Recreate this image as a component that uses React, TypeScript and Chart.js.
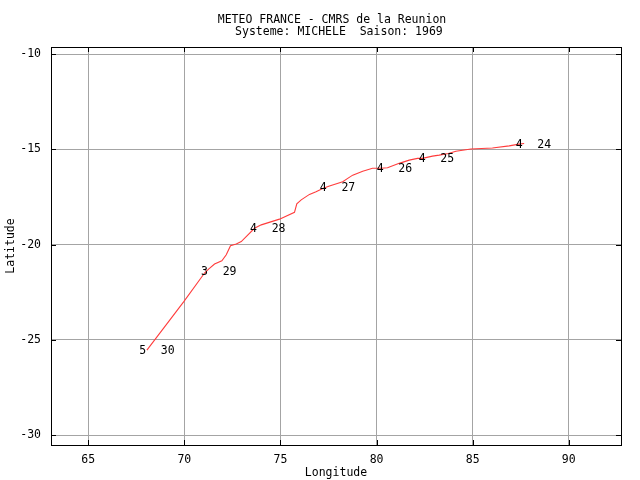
import React, { useEffect, useRef } from "react";
import { Chart, registerables } from "chart.js";

Chart.register(...registerables);

const titleLines = ["METEO FRANCE - CMRS de la Reunion", "  Systeme: MICHELE  Saison: 1969"];

const xTicks = [65, 70, 75, 80, 85, 90];
const yTicks = [-10, -15, -20, -25, -30];

const trackLon = [87.68, 87.42, 86.9, 86.03, 84.91, 84.13, 83.74, 83.26, 82.91, 82.39, 82.13, 81.7, 81.18, 80.57, 80.23, 79.79, 79.28, 78.76, 78.5, 78.24, 77.55, 77.23, 76.85, 76.51, 76.08, 75.85, 75.73, 74.95, 74.0, 73.65, 72.96, 72.7, 72.4, 72.18, 71.95, 71.57, 71.26, 71.05, 69.98, 68.05];
const trackLat = [-14.69, -14.72, -14.81, -14.92, -14.98, -15.09, -15.21, -15.3, -15.35, -15.47, -15.47, -15.56, -15.73, -15.96, -15.99, -15.99, -16.14, -16.35, -16.52, -16.7, -16.92, -17.04, -17.22, -17.36, -17.65, -17.86, -18.3, -18.66, -18.96, -19.14, -19.84, -19.96, -20.06, -20.53, -20.85, -21.02, -21.28, -21.49, -22.98, -25.54];

const days = ["24", "25", "26", "27", "28", "29", "30"];
const intensity = ["4", "4", "4", "4", "4", "3", "5"];
const dayLon = [87.42, 82.38, 80.19, 77.23, 73.6, 71.05, 67.83];
const dayLat = [-14.72, -15.46, -15.98, -16.97, -19.12, -21.37, -25.51];

const FONT = "DejaVu Sans Mono";
const FSIZE = 11.5;

const decorPlugin = {
  id: "decor",
  afterDraw(chart: any) {
    const ctx = chart.ctx;
    const { left, right, top, bottom } = chart.chartArea;
    const xs = chart.scales.x;
    const ys = chart.scales.y;
    ctx.save();
    ctx.strokeStyle = "#000";
    ctx.lineWidth = 1;
    ctx.strokeRect(Math.round(left) + 0.5, Math.round(top) + 0.5, Math.round(right - left), Math.round(bottom - top));
    ctx.beginPath();
    xTicks.forEach((v) => {
      const px = Math.round(xs.getPixelForValue(v)) + 0.5;
      ctx.moveTo(px, bottom);
      ctx.lineTo(px, bottom - 5);
      ctx.moveTo(px, top);
      ctx.lineTo(px, top + 5);
    });
    yTicks.forEach((v) => {
      const py = Math.round(ys.getPixelForValue(v)) + 0.5;
      ctx.moveTo(left, py);
      ctx.lineTo(left + 5, py);
      ctx.moveTo(right, py);
      ctx.lineTo(right - 5, py);
    });
    ctx.stroke();
    ctx.fillStyle = "#000";
    ctx.font = `${FSIZE}px "${FONT}"`;
    ctx.textBaseline = "middle";
    ctx.textAlign = "center";
    for (let i = 0; i < days.length; i++) {
      const px = xs.getPixelForValue(dayLon[i]);
      const py = ys.getPixelForValue(dayLat[i]);
      ctx.fillText(intensity[i], px, py + 1);
      ctx.fillText(days[i], px + 25, py + 1);
    }
    titleLines.forEach((t, i) => {
      ctx.fillText(t, 332, 20 + i * 12);
    });
    ctx.restore();
  },
};

export default function App() {
  const ref = useRef<HTMLCanvasElement | null>(null);
  useEffect(() => {
    if (!ref.current) return;
    const chart = new Chart(ref.current, {
      type: "scatter",
      data: {
        datasets: [
          {
            data: trackLon.map((x, i) => ({ x, y: trackLat[i] })),
            showLine: true,
            borderColor: "#ff3c3c",
            borderWidth: 1.1,
            pointRadius: 0,
            tension: 0,
          },
        ],
      },
      options: {
        animation: false,
        responsive: false,
        layout: { padding: { left: 0, right: 19, top: 47, bottom: 0 } },
        plugins: { legend: { display: false }, tooltip: { enabled: false }, title: { display: false } },
        scales: {
          x: {
            type: "linear",
            min: 63.06,
            max: 92.72,
            afterBuildTicks: (s: any) => {
              s.ticks = xTicks.map((v) => ({ value: v }));
            },
            afterFit: (s: any) => {
              s.height = 35;
            },
            grid: { color: "#a4a4a4", drawTicks: false, lineWidth: 1 },
            border: { display: false },
            ticks: { color: "#000", padding: 8, font: { family: FONT, size: FSIZE }, callback: (v: any) => String(v) },
            title: { display: true, text: "Longitude", color: "#000", padding: { top: 0, bottom: 0 }, font: { family: FONT, size: FSIZE } },
          },
          y: {
            type: "linear",
            min: -30.52,
            max: -9.62,
            afterBuildTicks: (s: any) => {
              s.ticks = yTicks.map((v) => ({ value: v }));
            },
            afterFit: (s: any) => {
              s.width = 51;
            },
            grid: { color: "#a4a4a4", drawTicks: false, lineWidth: 1 },
            border: { display: false },
            ticks: { color: "#000", padding: 10, font: { family: FONT, size: FSIZE }, callback: (v: any) => String(v) },
            title: { display: true, text: "Latitude", color: "#000", padding: { top: 4, bottom: 0 }, font: { family: FONT, size: FSIZE } },
          },
        },
      },
      plugins: [decorPlugin],
    });
    return () => chart.destroy();
  }, []);
  return (
    <div style={{ position: "absolute", left: 0, top: 0, width: 640, height: 480, background: "#fff" }}>
      <canvas ref={ref} width={640} height={480} />
    </div>
  );
}
